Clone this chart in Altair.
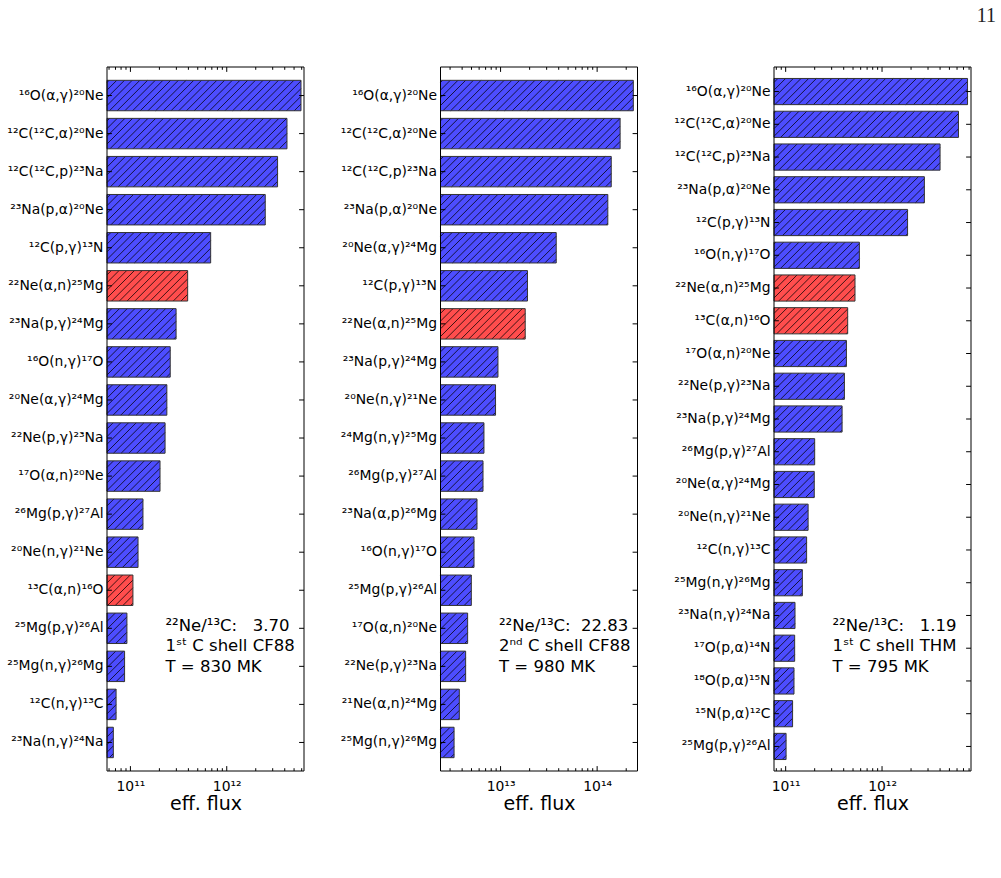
import math

import altair as alt
import pandas as pd

FONT = "DejaVu Sans"
NBSP = "\u00a0"

# ---- reaction fluxes, listed top to bottom in each panel ----
reactions_cf88_1st = [
    "¹⁶O(α,γ)²⁰Ne", "¹²C(¹²C,α)²⁰Ne", "¹²C(¹²C,p)²³Na", "²³Na(p,α)²⁰Ne",
    "¹²C(p,γ)¹³N", "²²Ne(α,n)²⁵Mg", "²³Na(p,γ)²⁴Mg", "¹⁶O(n,γ)¹⁷O",
    "²⁰Ne(α,γ)²⁴Mg", "²²Ne(p,γ)²³Na", "¹⁷O(α,n)²⁰Ne", "²⁶Mg(p,γ)²⁷Al",
    "²⁰Ne(n,γ)²¹Ne", "¹³C(α,n)¹⁶O", "²⁵Mg(p,γ)²⁶Al", "²⁵Mg(n,γ)²⁶Mg",
    "¹²C(n,γ)¹³C", "²³Na(n,γ)²⁴Na",
]
flux_cf88_1st = [
    5.90e12, 4.22e12, 3.37e12, 2.51e12, 6.81e11, 3.93e11, 2.98e11, 2.59e11,
    2.39e11, 2.29e11, 2.03e11, 1.35e11, 1.20e11, 1.062e11, 9.2e10, 8.7e10,
    7.1e10, 6.65e10,
]

reactions_cf88_2nd = [
    "¹⁶O(α,γ)²⁰Ne", "¹²C(¹²C,α)²⁰Ne", "¹²C(¹²C,p)²³Na", "²³Na(p,α)²⁰Ne",
    "²⁰Ne(α,γ)²⁴Mg", "¹²C(p,γ)¹³N", "²²Ne(α,n)²⁵Mg", "²³Na(p,γ)²⁴Mg",
    "²⁰Ne(n,γ)²¹Ne", "²⁴Mg(n,γ)²⁵Mg", "²⁶Mg(p,γ)²⁷Al", "²³Na(α,p)²⁶Mg",
    "¹⁶O(n,γ)¹⁷O", "²⁵Mg(p,γ)²⁶Al", "¹⁷O(α,n)²⁰Ne", "²²Ne(p,γ)²³Na",
    "²¹Ne(α,n)²⁴Mg", "²⁵Mg(n,γ)²⁶Mg",
]
flux_cf88_2nd = [
    2.37e14, 1.73e14, 1.40e14, 1.29e14, 3.77e13, 1.90e13, 1.80e13, 9.4e12,
    8.87e12, 6.73e12, 6.58e12, 5.70e12, 5.31e12, 4.98e12, 4.56e12, 4.35e12,
    3.74e12, 3.30e12,
]

reactions_thm_1st = [
    "¹⁶O(α,γ)²⁰Ne", "¹²C(¹²C,α)²⁰Ne", "¹²C(¹²C,p)²³Na", "²³Na(p,α)²⁰Ne",
    "¹²C(p,γ)¹³N", "¹⁶O(n,γ)¹⁷O", "²²Ne(α,n)²⁵Mg", "¹³C(α,n)¹⁶O",
    "¹⁷O(α,n)²⁰Ne", "²²Ne(p,γ)²³Na", "²³Na(p,γ)²⁴Mg", "²⁶Mg(p,γ)²⁷Al",
    "²⁰Ne(α,γ)²⁴Mg", "²⁰Ne(n,γ)²¹Ne", "¹²C(n,γ)¹³C", "²⁵Mg(n,γ)²⁶Mg",
    "²³Na(n,γ)²⁴Na", "¹⁷O(p,α)¹⁴N", "¹⁸O(p,α)¹⁵N", "¹⁵N(p,α)¹²C",
    "²⁵Mg(p,γ)²⁶Al",
]
flux_thm_1st = [
    7.71e12, 6.21e12, 4.00e12, 2.75e12, 1.84e12, 5.82e11, 5.24e11, 4.40e11,
    4.27e11, 4.07e11, 3.85e11, 2.00e11, 1.98e11, 1.71e11, 1.65e11, 1.49e11,
    1.25e11, 1.24e11, 1.22e11, 1.18e11, 1.01e11,
]

# neutron sources, drawn in red
neutron_sources = ["²²Ne(α,n)²⁵Mg", "¹³C(α,n)¹⁶O"]

# x limits of each panel
xlims = [(5.715e10, 6.339e12), (2.388e12, 2.618e14), (7.568e10, 8.375e12)]

# panel annotations
ne_c_ratios = [3.70, 22.83, 1.19]
shell_names = ["1ˢᵗ C shell CF88", "2ⁿᵈ C shell CF88", "1ˢᵗ C shell THM"]
temperatures_mk = [830, 980, 795]

# decade tick labels
decade_labels = {11: "10¹¹", 12: "10¹²", 13: "10¹³", 14: "10¹⁴"}

# ---- geometry / style ----
W, H = 197, 704          # plot area of each panel
PAD = 0.75               # y padding beyond first / last bar (in bar units)
HALF = 0.4               # half bar height (in bar units)
HATCH = 7.7              # hatch spacing in px
TICK_MAJ, TICK_MIN = 4.9, 2.8
BLUE, RED = "#4d4dff", "#ff4d4d"
EDGE = "#333333"


def hatch_segments(flux, xlim, n):
    """Diagonal '/' hatch lines clipped to each bar, in data coordinates."""
    lo, hi = math.log10(xlim[0]), math.log10(xlim[1])
    ppd = W / (hi - lo)
    unit = H / (n - 1 + 2 * PAD)
    rows = []
    for i, v in enumerate(flux):
        x0, x1 = 0.0, (math.log10(v) - lo) * ppd
        yt = (i - HALF + PAD) * unit
        yb = (i + HALF + PAD) * unit
        c = math.ceil((x0 + yt) / HATCH) * HATCH
        while c < x1 + yb:
            xa, xb = max(x0, c - yb), min(x1, c - yt)
            if xb > xa:
                rows.append({
                    "hx0": 10 ** (lo + xa / ppd), "hy0": (c - xa) / unit - PAD,
                    "hx1": 10 ** (lo + xb / ppd), "hy1": (c - xb) / unit - PAD,
                })
            c += HATCH
    return pd.DataFrame(rows)


def axis_ticks(xlim):
    lo, hi = math.log10(xlim[0]), math.log10(xlim[1])
    major, minor = [], []
    for k in range(math.floor(lo), math.ceil(hi) + 1):
        for m in range(1, 10):
            v = m * 10 ** k
            if xlim[0] <= v <= xlim[1]:
                (major if m == 1 else minor).append(v)
    return major, minor


def panel(reactions, flux, xlim, ratio, shell, temp, page=None):
    n = len(reactions)
    df = pd.DataFrame({
        "idx": list(range(n)),
        "reaction": reactions,
        "flux": flux,
        "kind": ["source" if r in neutron_sources else "other" for r in reactions],
    })
    one = pd.DataFrame({"k": [0]})
    major, minor = axis_ticks(xlim)
    label_expr = " : ".join(
        f"round(log(datum.value)/LN10) == {k} ? '{t}'" for k, t in decade_labels.items()
    ) + " : ''"

    xs = alt.Scale(type="log", domain=list(xlim), nice=False)
    ys = alt.Scale(domain=[-PAD, n - 1 + PAD], reverse=True, nice=False, zero=False)

    base = alt.Chart(df).transform_calculate(
        top=f"datum.idx - {HALF}", bottom=f"datum.idx + {HALF}"
    )
    x_axis = alt.Axis(
        values=major, labelExpr=label_expr, ticks=False, domain=False, grid=False,
        title="eff. flux", labelFont=FONT, labelFontSize=13.9, labelColor="black",
        labelPadding=8, labelFlush=False, titleFont=FONT, titleFontSize=19,
        titleFontWeight="normal", titleColor="black", titlePadding=2,
    )

    fill = base.mark_rect(strokeWidth=0).encode(
        x=alt.X("flux:Q", scale=xs, axis=x_axis),
        x2=alt.datum(xlim[0]),
        y=alt.Y("top:Q", scale=ys, axis=None),
        y2="bottom:Q",
        fill=alt.Fill("kind:N", scale=alt.Scale(domain=["other", "source"], range=[BLUE, RED]), legend=None),
    )
    hatch = alt.Chart(hatch_segments(flux, xlim, n)).mark_rule(
        color="black", strokeWidth=1, opacity=0.75
    ).encode(
        x=alt.X("hx0:Q", scale=xs), x2="hx1:Q",
        y=alt.Y("hy0:Q", scale=ys), y2="hy1:Q",
    )
    outline = base.mark_rect(fillOpacity=0, stroke=EDGE, strokeWidth=1).encode(
        x=alt.X("flux:Q", scale=xs), x2=alt.datum(xlim[0]),
        y=alt.Y("top:Q", scale=ys), y2="bottom:Q",
    )
    names = alt.Chart(df).mark_text(
        align="right", baseline="middle", font=FONT, fontSize=13.9, color="black"
    ).encode(x=alt.value(-3.5), y=alt.Y("idx:Q", scale=ys), text="reaction:N")

    tick = dict(color="black", strokeWidth=1)
    ytick_l = alt.Chart(df).mark_rule(**tick).encode(
        x=alt.value(0), x2=alt.value(TICK_MAJ), y=alt.Y("idx:Q", scale=ys))
    ytick_r = alt.Chart(df).mark_rule(**tick).encode(
        x=alt.value(W - TICK_MAJ), x2=alt.value(W), y=alt.Y("idx:Q", scale=ys))
    dmaj = pd.DataFrame({"v": major})
    dmin = pd.DataFrame({"v": minor})
    xtick_layers = []
    for d, ln in ((dmaj, TICK_MAJ), (dmin, TICK_MIN)):
        xtick_layers.append(alt.Chart(d).mark_rule(**tick).encode(
            x=alt.X("v:Q", scale=xs), y=alt.value(H - ln), y2=alt.value(H)))
        xtick_layers.append(alt.Chart(d).mark_rule(**tick).encode(
            x=alt.X("v:Q", scale=xs), y=alt.value(0), y2=alt.value(ln)))

    frame = alt.Chart(one).mark_rect(fillOpacity=0, stroke="black", strokeWidth=1).encode(
        x=alt.value(0), x2=alt.value(W), y=alt.value(0), y2=alt.value(H))

    txt = dict(align="left", baseline="alphabetic", font=FONT, fontSize=16.5, color="black")
    ratio_txt = f"²²Ne/¹³C: {ratio:6.2f}".replace(" ", NBSP)
    notes = [
        alt.Chart(one).mark_text(text=ratio_txt, **txt).encode(x=alt.value(58.5), y=alt.value(563.6)),
        alt.Chart(one).mark_text(text=shell.replace(" ", NBSP), **txt).encode(x=alt.value(58.5), y=alt.value(584.3)),
        alt.Chart(one).mark_text(text=f"T = {temp} MK".replace(" ", NBSP), **txt).encode(x=alt.value(58.5), y=alt.value(605)),
    ]
    layers = [fill, hatch, outline, names, ytick_l, ytick_r, *xtick_layers, frame, *notes]
    if page is not None:
        layers.append(alt.Chart(pd.DataFrame({"p": [page]})).mark_text(
            align="right", baseline="alphabetic", font="Liberation Serif", fontSize=20, color="#222222"
        ).encode(x=alt.value(222), y=alt.value(-45), text="p:N"))
    return alt.layer(*layers).properties(width=W, height=H)


p1 = panel(reactions_cf88_1st, flux_cf88_1st, xlims[0], ne_c_ratios[0], shell_names[0], temperatures_mk[0])
p2 = panel(reactions_cf88_2nd, flux_cf88_2nd, xlims[1], ne_c_ratios[1], shell_names[1], temperatures_mk[1])
p3 = panel(reactions_thm_1st, flux_thm_1st, xlims[2], ne_c_ratios[2], shell_names[2], temperatures_mk[2], page="11")

chart = alt.hconcat(p1, p2, p3, spacing=136.5, bounds="flush").resolve_scale(
    x="independent", y="independent"
).properties(
    padding={"left": 7, "top": 6, "right": 0, "bottom": 0}, background="white"
).configure_view(stroke=None)

chart.save("out.html", embed_options={"renderer": "svg", "actions": False})
